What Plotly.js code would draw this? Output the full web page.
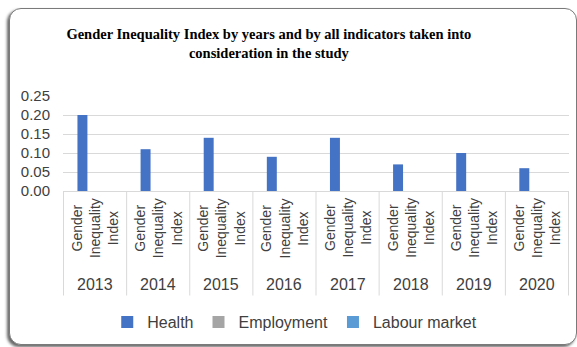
<!DOCTYPE html>
<html>
<head>
<meta charset="utf-8">
<script src="https://cdn.plot.ly/plotly-3.0.1.min.js"></script>
<style>
  html, body { margin: 0; padding: 0; background: #ffffff; width: 577px; height: 347px; overflow: hidden; }
  #frame {
    position: absolute; left: 9px; top: 8px; width: 566px; height: 335px;
    border: 1px solid #7a7a7a; border-radius: 12px; background: #ffffff;
    box-shadow: -2px 2px 3px rgba(0,0,0,0.6);
  }
  #chart { position: absolute; left: 0; top: 0; width: 577px; height: 347px; }
</style>
</head>
<body>
<div id="frame"></div>
<div id="chart"></div>
<script>
// Gender Inequality Index, one group per year
const years = ['2013', '2014', '2015', '2016', '2017', '2018', '2019', '2020'];
const innerLabel = 'Gender<br>Inequality<br>Index';
const health = [0.20, 0.11, 0.14, 0.09, 0.14, 0.07, 0.10, 0.06];
const employment = [0, 0, 0, 0, 0, 0, 0, 0];
const labourMarket = [0, 0, 0, 0, 0, 0, 0, 0];
const seriesNames = ['Health', 'Employment', 'Labour market'];
const seriesColors = ['#4472C4', '#A5A5A5', '#5B9BD5'];

const textColor = '#404040';
const gridColor = '#D9D9D9';

const traces = [health, employment, labourMarket].map((vals, k) => ({
  type: 'bar',
  name: seriesNames[k],
  x: years,
  y: vals,
  marker: { color: seriesColors[k] },
  hoverinfo: 'none'
}));

// category separators running through both label rows
const shapes = [];
for (let i = 0; i <= years.length; i++) {
  shapes.push({
    type: 'line', xref: 'x', yref: 'paper',
    x0: i - 0.5, x1: i - 0.5, y0: 0, y1: -1.10,
    line: { color: gridColor, width: 1 }
  });
}

const annotations = [];
years.forEach((yr, i) => {
  annotations.push({
    xref: 'x', yref: 'paper', x: i, y: -0.39,
    text: innerLabel, textangle: -90, showarrow: false,
    xanchor: 'center', yanchor: 'middle', align: 'center',
    font: { family: 'Liberation Sans, Arial, sans-serif', size: 14, color: textColor }
  });
  annotations.push({
    xref: 'x', yref: 'paper', x: i, y: -0.98,
    text: yr, showarrow: false, xanchor: 'center', yanchor: 'middle',
    font: { family: 'Liberation Sans, Arial, sans-serif', size: 16, color: textColor }
  });
});

const layout = {
  width: 577, height: 347,
  margin: { l: 63, r: 8, t: 96, b: 150 },
  paper_bgcolor: 'rgba(0,0,0,0)',
  plot_bgcolor: 'rgba(0,0,0,0)',
  font: { family: 'Liberation Sans, Arial, sans-serif', color: textColor },
  title: {
    text: 'Gender Inequality Index by years and by all indicators taken into<br>consideration in the study',
    font: { family: 'Liberation Serif, Times New Roman, serif', size: 14.5, color: '#000000', weight: 'bold' },
    x: 0.466, xref: 'container', xanchor: 'center',
    y: 0.888, yref: 'container', yanchor: 'top'
  },
  barmode: 'group',
  bargap: 0.4,
  bargroupgap: 0.21,
  xaxis: {
    type: 'category',
    showticklabels: false,
    showgrid: false,
    zeroline: false,
    showline: true, linecolor: gridColor, linewidth: 1,
    ticks: ''
  },
  yaxis: {
    range: [0, 0.25], dtick: 0.05, tickformat: '.2f',
    showgrid: true, gridcolor: gridColor, gridwidth: 1,
    zeroline: false, showline: false,
    ticks: '', ticklabelstandoff: 12,
    tickfont: { size: 15, color: textColor }
  },
  showlegend: true,
  legend: {
    orientation: 'h',
    x: 0.458, xanchor: 'center',
    y: -1.38, yanchor: 'middle',
    font: { size: 16, color: textColor },
    itemwidth: 30,
    traceorder: 'normal'
  },
  shapes: shapes,
  annotations: annotations
};

Plotly.newPlot('chart', traces, layout, { staticPlot: true, displayModeBar: false });
</script>
</body>
</html>
